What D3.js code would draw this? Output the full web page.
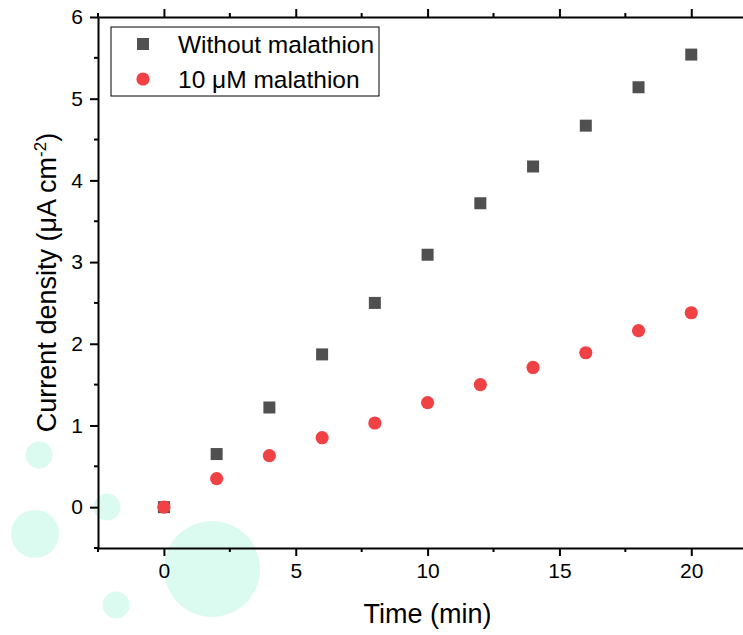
<html>
<head>
<style>
  body { margin: 0; background: #fff; }
  text { font-family: "Liberation Sans", Arial, sans-serif; fill: #000; }
  .axis path, .axis line { stroke: #000; stroke-width: 2px; fill: none; }
</style>
</head>
<body>
<div id="chart"></div>
<script src="https://d3js.org/d3.v7.min.js"></script>
<script>
const times = [0, 2, 4, 6, 8, 10, 12, 14, 16, 18, 20];
const withoutMalathion = [0, 0.65, 1.22, 1.87, 2.50, 3.09, 3.72, 4.17, 4.67, 5.14, 5.54];
const withMalathion = [0, 0.35, 0.63, 0.85, 1.03, 1.28, 1.50, 1.71, 1.89, 2.16, 2.38];
const xTicks = [0, 5, 10, 15, 20];
const yTicks = [0, 1, 2, 3, 4, 5, 6];
const seriesNames = ['Without malathion', '10 \u03BCM malathion'];

const W = 743, H = 635;
const margin = { top: 17, right: 0, bottom: 87, left: 98 };

const x = d3.scaleLinear().domain([-2.5, 22]).range([margin.left, W - margin.right + 1]);
const y = d3.scaleLinear().domain([-0.5, 6]).range([H - margin.bottom, margin.top]);

const svg = d3.select('#chart').append('svg')
  .attr('width', W).attr('height', H);

// light decorative bubbles behind the plot
const bubbles = [[39, 455, 13.5], [107, 507, 13.5], [35, 534, 24], [212, 569, 48], [116, 605, 13.5]];
svg.selectAll('.bubble').data(bubbles).enter().append('circle')
  .attr('cx', d => d[0]).attr('cy', d => d[1]).attr('r', d => d[2])
  .attr('fill', '#dcfbf0');

const minorX = d3.range(-2.5, 22.01, 2.5).filter(v => !xTicks.includes(v));
const minorY = d3.range(-0.5, 6.01, 0.5).filter(v => !yTicks.includes(v));

// bottom axis
const gx = svg.append('g').attr('class', 'axis')
  .attr('transform', `translate(0,${y(-0.5)})`)
  .call(d3.axisBottom(x).tickValues(xTicks).tickFormat(d3.format('d'))
    .tickSize(8).tickPadding(7).tickSizeOuter(0));
gx.selectAll('text').style('font-size', '21px');
gx.append('g').selectAll('line').data(minorX).enter().append('line')
  .attr('x1', d => x(d)).attr('x2', d => x(d)).attr('y1', 0).attr('y2', 4)
  .attr('stroke', '#000').attr('stroke-width', 2);

// top axis
const gt = svg.append('g').attr('class', 'axis')
  .attr('transform', `translate(0,${y(6)})`)
  .call(d3.axisTop(x).tickValues(xTicks).tickSize(8).tickFormat('').tickSizeOuter(0));
gt.append('g').selectAll('line').data(minorX).enter().append('line')
  .attr('x1', d => x(d)).attr('x2', d => x(d)).attr('y1', 0).attr('y2', -4)
  .attr('stroke', '#000').attr('stroke-width', 2);

// left axis
const gy = svg.append('g').attr('class', 'axis')
  .attr('transform', `translate(${x(-2.5)},0)`)
  .call(d3.axisLeft(y).tickValues(yTicks).tickFormat(d3.format('d'))
    .tickSize(8).tickPadding(7).tickSizeOuter(0));
gy.selectAll('text').style('font-size', '21px');
gy.append('g').selectAll('line').data(minorY).enter().append('line')
  .attr('y1', d => y(d)).attr('y2', d => y(d)).attr('x1', 0).attr('x2', -4)
  .attr('stroke', '#000').attr('stroke-width', 2);

// axis titles
svg.append('text')
  .attr('x', x(10)).attr('y', 623)
  .attr('text-anchor', 'middle').style('font-size', '27px')
  .text('Time (min)');

const yt = svg.append('text')
  .attr('transform', `translate(56,${y(2.75)}) rotate(-90)`)
  .attr('text-anchor', 'middle').style('font-size', '27px');
yt.append('tspan').text('Current density (\u03BCA cm');
yt.append('tspan').attr('dy', -10).style('font-size', '17px').text('-2');
yt.append('tspan').attr('dy', 10).text(')');

// series
const sq = 12;
svg.append('g').selectAll('rect').data(times).enter().append('rect')
  .attr('x', d => x(d) - sq / 2)
  .attr('y', (d, i) => y(withoutMalathion[i]) - sq / 2)
  .attr('width', sq).attr('height', sq)
  .attr('fill', '#505050');

svg.append('g').selectAll('circle').data(times).enter().append('circle')
  .attr('cx', d => x(d))
  .attr('cy', (d, i) => y(withMalathion[i]))
  .attr('r', 6.6)
  .attr('fill', '#f04144');

// legend
const lg = svg.append('g').attr('transform', 'translate(111,27)');
lg.append('rect').attr('width', 268).attr('height', 69)
  .attr('fill', '#fff').attr('stroke', '#000').attr('stroke-width', 1);
lg.append('rect').attr('x', 32 - sq / 2).attr('y', 17 - sq / 2)
  .attr('width', sq).attr('height', sq).attr('fill', '#505050');
lg.append('circle').attr('cx', 32).attr('cy', 52).attr('r', 6.6).attr('fill', '#f04144');
lg.selectAll('.lt').data(seriesNames).enter().append('text')
  .attr('x', 67).attr('y', (d, i) => 26 + i * 35)
  .style('font-size', '24.5px')
  .text(d => d);
</script>
</body>
</html>
